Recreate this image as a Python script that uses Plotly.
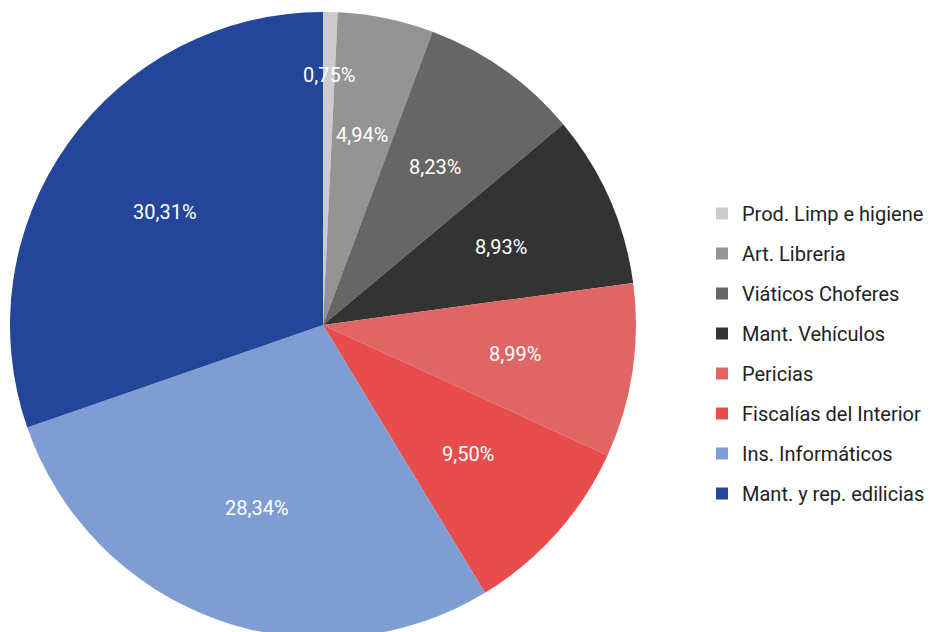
import math
import plotly.graph_objects as go

labels = ["Prod. Limp e higiene", "Art. Libreria", "Viáticos Choferes", "Mant. Vehículos",
          "Pericias", "Fiscalías del Interior", "Ins. Informáticos", "Mant. y rep. edilicias"]
values = [0.75, 4.94, 8.23, 8.93, 8.99, 9.50, 28.34, 30.31]
colors = ["#cccccc", "#949494", "#666666", "#333333", "#e06666", "#e84d4d", "#7e9dd2", "#23469a"]

# the page body adds an 8px offset, figure coordinates below are relative to the figure
W, H = 943, 640
CX, CY, R = 315, 317, 313

fig = go.Figure()
fig.add_trace(go.Pie(
    labels=labels, values=values, sort=False, direction="clockwise", rotation=0,
    marker=dict(colors=colors, line=dict(width=0)),
    textinfo="none", showlegend=False, hoverinfo="label+percent",
    domain=dict(x=[(CX - R) / W, (CX + R) / W], y=[1 - (CY + R) / H, 1 - (CY - R) / H]),
))

# legend entries via invisible helper traces (allows row spacing like the reference)
for i, (lab, col) in enumerate(zip(labels, colors)):
    fig.add_trace(go.Scatter(
        x=[None], y=[None], mode="markers", name=lab, legendgroup=str(i),
        marker=dict(symbol="square", size=12, color=col), hoverinfo="skip"))

# percentage labels placed from the slice angles
total = sum(values)
cum = 0.0
annotations = []
for v in values:
    mid = (cum + v / 2) / total
    cum += v
    ang = 2 * math.pi * mid
    f = 0.8 if v / total < 0.02 else 0.62
    px = CX + math.sin(ang) * R * f
    py = CY - math.cos(ang) * R * f
    pct = f"{v / total * 100:.2f}".replace(".", ",") + "%"
    annotations.append(dict(
        x=px / W, y=1 - py / H, xref="paper", yref="paper", text=pct,
        showarrow=False, font=dict(family="Roboto", size=20, color="#ffffff"),
        xanchor="center", yanchor="middle"))

fig.update_layout(
    width=W, height=H,
    margin=dict(l=0, r=0, t=0, b=0),
    paper_bgcolor="#ffffff", plot_bgcolor="#ffffff",
    xaxis=dict(visible=False), yaxis=dict(visible=False),
    annotations=annotations,
    font=dict(family="Roboto", color="#222222"),
    legend=dict(x=694 / W, xanchor="left", y=1 - 186 / H, yanchor="top",
                font=dict(family="Roboto", size=20, color="#222222"),
                tracegroupgap=11, bgcolor="rgba(0,0,0,0)"),
    showlegend=True,
)

fig.write_html("out.html")
